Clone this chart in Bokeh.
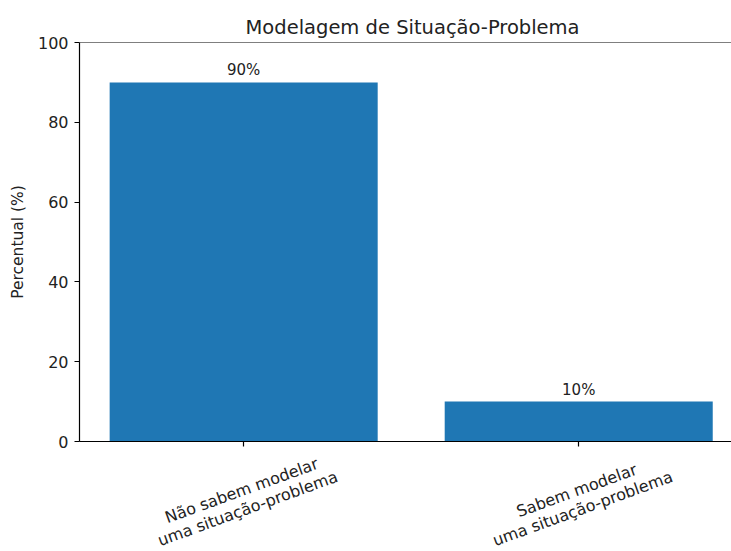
from bokeh.plotting import figure
from bokeh.layouts import column
from bokeh.models import Range1d, ColumnDataSource, LabelSet, Span, FixedTicker
from bokeh.embed import file_html
from bokeh.resources import INLINE
from bokeh.core.properties import value

# ---- data ----
categories = ["Não sabem modelar\numa situação-problema",
              "Sabem modelar\numa situação-problema"]
percentages = [90, 10]
bar_labels = ["90%", "10%"]
y_ticks = [0, 20, 40, 60, 80, 100]
title_text = "Modelagem de Situação-Problema"
y_label = "Percentual (%)"

FONT = "DejaVu Sans"
TXT = "#222222"
BAR = "#1f77b4"

xs = list(range(len(categories)))
line1 = [c.split("\n")[0] for c in categories]
line2 = [c.split("\n")[1] for c in categories]
src = ColumnDataSource(dict(x=xs, top=percentages, lab=bar_labels,
                            l1=line1, l2=line2, one=[1] * len(xs)))

xr = Range1d(-0.49, 1.456)

p = figure(width=731, height=453, output_backend="svg", toolbar_location=None,
           x_range=xr, y_range=Range1d(0, 100),
           min_border_left=79, min_border_right=0, min_border_top=42, min_border_bottom=12)
p.outline_line_color = None
p.background_fill_color = "white"
p.border_fill_color = "white"
p.grid.visible = False

p.title.text = title_text
p.title.align = "left"
p.title.offset = 166
p.title.text_font = FONT
p.title.text_font_size = "19.5px"
p.title.text_font_style = "normal"
p.title.text_color = TXT
p.title.standoff = 8

p.vbar(x="x", top="top", width=0.8, source=src, fill_color=BAR, line_color=None)

# y axis
ya = p.yaxis[0]
ya.ticker = FixedTicker(ticks=y_ticks)
ya.axis_label = y_label
ya.axis_label_text_font = FONT
ya.axis_label_text_font_size = "15.5px"
ya.axis_label_text_font_style = "normal"
ya.axis_label_text_color = TXT
ya.axis_label_standoff = 8
ya.major_label_text_font = FONT
ya.major_label_text_font_size = "16px"
ya.major_label_text_color = TXT
ya.major_label_standoff = 6
ya.major_tick_out = 5
ya.major_tick_in = 0
ya.minor_tick_line_color = None
ya.axis_line_color = "black"
ya.axis_line_width = 1.2
ya.major_tick_line_color = "black"
ya.major_tick_line_width = 1.2

# x axis (ticks only; labels drawn in the strip below)
xa = p.xaxis[0]
xa.ticker = FixedTicker(ticks=xs)
xa.major_label_text_color = None
xa.major_label_text_font_size = "1px"
xa.major_label_standoff = 0
xa.major_tick_out = 5
xa.major_tick_in = 0
xa.minor_tick_line_color = None
xa.axis_line_color = "black"
xa.axis_line_width = 1.2
xa.major_tick_line_color = "black"
xa.major_tick_line_width = 1.2

# top spine
p.add_layout(Span(location=100, dimension="width", line_color="black", line_width=1.2))

# value labels above bars
p.add_layout(LabelSet(x="x", y="top", text="lab", source=src, y_offset=3,
                      text_align="center", text_baseline="bottom",
                      text_font=value(FONT), text_font_size="15px", text_color=TXT))

# strip for the rotated category labels, sharing the x scale
q = figure(width=731, height=98, output_backend="svg", toolbar_location=None,
           x_range=xr, y_range=Range1d(0, 1),
           x_axis_location=None, y_axis_location=None,
           min_border_left=79, min_border_right=0, min_border_top=0, min_border_bottom=0)
q.outline_line_color = None
q.grid.visible = False
q.background_fill_color = "white"
q.border_fill_color = "white"
common = dict(source=src, y="one", x="x", angle=20, angle_units="deg",
              text_align="center", text_baseline="middle",
              text_font=value(FONT), text_font_size="16px", text_color=TXT)
q.add_layout(LabelSet(text="l1", x_offset=-2, y_offset=-37, **common))
q.add_layout(LabelSet(text="l2", x_offset=4, y_offset=-55, **common))

layout = column(p, q, spacing=0)
open("out.html", "w").write(file_html(layout, INLINE))
